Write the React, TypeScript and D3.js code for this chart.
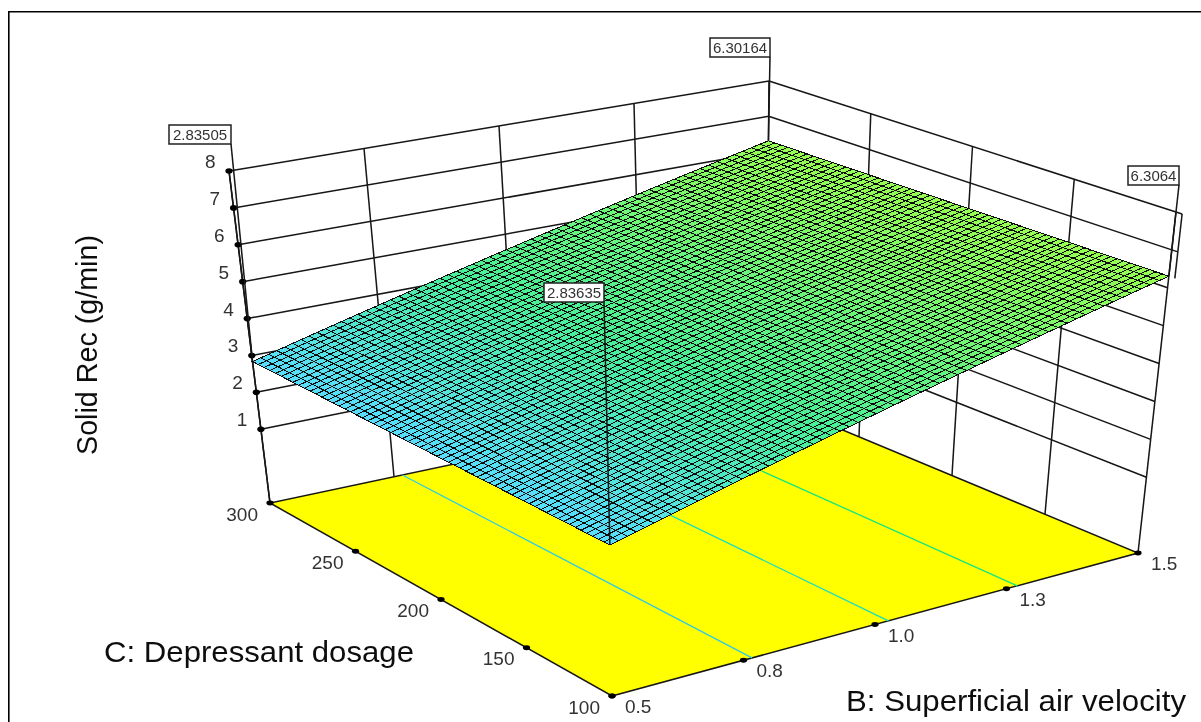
import * as d3 from 'd3'

const zTicks = [1, 2, 3, 4, 5, 6, 7, 8]
const bTicks = [0.5, 0.75, 1.0, 1.25, 1.5]
const bTickLabels = ['0.5', '0.8', '1.0', '1.3', '1.5']
const cTicks = [100, 150, 200, 250, 300]
const cTickLabels = ['100', '150', '200', '250', '300']
const cornerB = [0.5, 0.5, 1.5, 1.5]
const cornerC = [300, 100, 300, 100]
const cornerZ = [2.83505, 2.83635, 6.30164, 6.3064]
const cornerLabels = ['2.83505', '2.83635', '6.30164', '6.3064']
const contourLevels = [3.76, 4.66, 5.51]
const contourColors = ['#2ccbe6', '#14dfc0', '#12e582']

const W = 1201
const H = 722
const FLOOR_Z = -1
const MESH = 62

const bScale = d3.scaleLinear().domain([0.5, 1.5]).range([0, 1])
const cScale = d3.scaleLinear().domain([100, 300]).range([0, 1])
const zScale = d3.scaleLinear().domain([FLOOR_Z, 8]).range([0, 1])
const surfaceColor = d3.scaleLinear<string>()
  .domain([2.835, 4.2, 6.305])
  .range(['#58deff', '#48f09a', '#96ff52'])

// box corners on screen: front, right, back, left; floor and z = 8
// ticks in the picture are evenly spaced along every edge, so the box is trilinear, not a true camera
const FLOOR = [[612, 696], [1138, 553], [766, 398], [270, 503]]
const TOP = [[607, 342], [1176, 212], [769, 81], [229, 171]]

const bilin = (q: number[][], u: number, v: number, k: number) =>
  (1 - v) * ((1 - u) * q[0][k] + u * q[1][k]) + v * ((1 - u) * q[3][k] + u * q[2][k])

// u: B 0..1, v: C 0..1, w: Z 0..1
function proj(u: number, v: number, w: number): [number, number] {
  return [
    d3.interpolateNumber(bilin(FLOOR, u, v, 0), bilin(TOP, u, v, 0))(w),
    d3.interpolateNumber(bilin(FLOOR, u, v, 1), bilin(TOP, u, v, 1))(w),
  ]
}
const at = (B: number, C: number, Z: number) => proj(bScale(B), cScale(C), zScale(Z))

const lineGen = d3.line()
const seg = (p: [number, number], q: [number, number]) => lineGen([p, q]) as string

// plane through the labelled corners
function surfaceZ(u: number, v: number) {
  const near = cornerZ[1] + (cornerZ[3] - cornerZ[1]) * u
  const far = cornerZ[0] + (cornerZ[2] - cornerZ[0]) * u
  return near + (far - near) * v
}

const meshIdx = d3.range(MESH)
const cells = meshIdx.flatMap((i) =>
  meshIdx.map((j) => {
    const u0 = i / MESH, u1 = (i + 1) / MESH, v0 = j / MESH, v1 = (j + 1) / MESH
    const pts: [number, number][] = [
      proj(u0, v0, zScale(surfaceZ(u0, v0))),
      proj(u1, v0, zScale(surfaceZ(u1, v0))),
      proj(u1, v1, zScale(surfaceZ(u1, v1))),
      proj(u0, v1, zScale(surfaceZ(u0, v1))),
    ]
    return { key: `${i}-${j}`, d: lineGen(pts) + 'Z', fill: surfaceColor(surfaceZ((u0 + u1) / 2, (v0 + v1) / 2)) }
  }),
)

// bottom right corners of the value boxes, same order as cornerLabels
const boxAnchors = [[231, 144], [604, 302], [770, 57], [1179, 185]]
const boxSizes = [62, 60, 60, 51]

const FONT = '"Liberation Sans", Arial, sans-serif'
const LINE = '#141414'

export default function App() {
  const floorPath = lineGen(FLOOR as [number, number][]) + 'Z'
  return (
    <svg width={W} height={H} viewBox={`0 0 ${W} ${H}`} style={{ position: 'fixed', left: 0, top: 0, background: '#fff' }} fontFamily={FONT}>
      <defs>
        {/* the source is a slightly soft screenshot */}
        <filter id="soft" x="0" y="0" width="100%" height="100%">
          <feGaussianBlur stdDeviation="0.35" />
        </filter>
      </defs>
      <rect width={W} height={H} fill="#fff" />
      <g filter="url(#soft)">
        <path d={`M8.5 722V11.5H${W}`} fill="none" stroke="#000" strokeWidth={2.2} />

        {/* back walls */}
        <g stroke={LINE} strokeWidth={1.5} fill="none">
          {zTicks.map((z) => (
            <g key={z}>
              <path d={seg(at(0.5, 300, z), at(1.5, 300, z))} />
              <path d={seg(at(1.5, 300, z), at(1.5, 100, z))} />
            </g>
          ))}
          {bTicks.map((t) => <path key={t} d={seg(at(t, 300, FLOOR_Z), at(t, 300, 8))} />)}
          {cTicks.slice(1, 4).map((t) => <path key={t} d={seg(at(1.5, t, FLOOR_Z), at(1.5, t, 8))} />)}
          <path d={seg(at(1.5, 100, FLOOR_Z), at(1.5, 100, 8))} />
          <path d={seg(at(1.5, 97, 8), at(1.5, 97, 6.3))} />
          <path d={seg(at(1.5, 100, 8), at(1.5, 97, 8))} />
          <path d={seg(at(1.5, 100, 7), at(1.5, 97, 7))} />
        </g>

        {/* floor with contours */}
        <path d={floorPath} fill="#ffff00" stroke={LINE} strokeWidth={1.5} />
        {contourLevels.map((lv, i) => {
          const cAt = (C: number) => {
            const v = cScale(C)
            const z0 = surfaceZ(0, v), z1 = surfaceZ(1, v)
            return proj((lv - z0) / (z1 - z0), v, 0)
          }
          return <path key={lv} d={seg(cAt(100), cAt(300))} fill="none" stroke={contourColors[i]} strokeWidth={1.3} />
        })}

        {/* z axis and floor ticks */}
        <path d={seg(at(0.5, 300, FLOOR_Z), at(0.5, 300, 8))} stroke={LINE} strokeWidth={1.5} />
        {zTicks.map((z) => {
          const [x, y] = at(0.5, 300, z)
          return (
            <g key={z}>
              <ellipse cx={x} cy={y} rx={3.6} ry={2.8} fill="#000" />
              <text x={x - 13.5} y={y - 3} textAnchor="end" fontSize={19} fill="#333">{z}</text>
            </g>
          )
        })}
        {cTicks.map((t, i) => {
          const [x, y] = at(0.5, t, FLOOR_Z)
          return (
            <g key={t}>
              <ellipse cx={x} cy={y} rx={3.6} ry={2.4} fill="#000" />
              <text x={x - 12} y={y + 17.5} textAnchor="end" fontSize={19} fill="#333">{cTickLabels[i]}</text>
            </g>
          )
        })}
        {bTicks.map((t, i) => {
          const [x, y] = at(t, 100, FLOOR_Z)
          return (
            <g key={t}>
              <ellipse cx={x} cy={y} rx={3.6} ry={2.4} fill="#000" />
              <text x={x + 13} y={y + 17} fontSize={19} fill="#333">{bTickLabels[i]}</text>
            </g>
          )
        })}

        {/* response surface */}
        <g stroke="#0c0c0c" strokeWidth={1} shapeRendering="crispEdges">
          {cells.map((m) => <path key={m.key} d={m.d} fill={m.fill} />)}
        </g>

        {/* corner value flags */}
        {cornerLabels.map((s, i) => {
          const [ax, ay] = boxAnchors[i]
          const w = boxSizes[i]
          const p = at(cornerB[i], cornerC[i], cornerZ[i])
          return (
            <g key={s}>
              <path d={seg([ax, ay], p)} stroke={LINE} strokeWidth={1.5} />
              <rect x={ax - w} y={ay - 19} width={w} height={19} fill="#fff" stroke="#222" strokeWidth={1.5} />
              <text x={ax - w / 2} y={ay - 4.5} textAnchor="middle" fontSize={15} fill="#333">{s}</text>
            </g>
          )
        })}

        {/* axis titles */}
        <text transform="translate(97,455) rotate(-90)" fontSize={28.7} fill="#111">Solid Rec (g/min)</text>
        <text x={104} y={662} fontSize={30} fill="#111" textLength={310} lengthAdjust="spacingAndGlyphs">C: Depressant dosage</text>
        <text x={846} y={711} fontSize={30} fill="#111" textLength={340} lengthAdjust="spacingAndGlyphs">B: Superficial air velocity</text>
      </g>
    </svg>
  )
}
